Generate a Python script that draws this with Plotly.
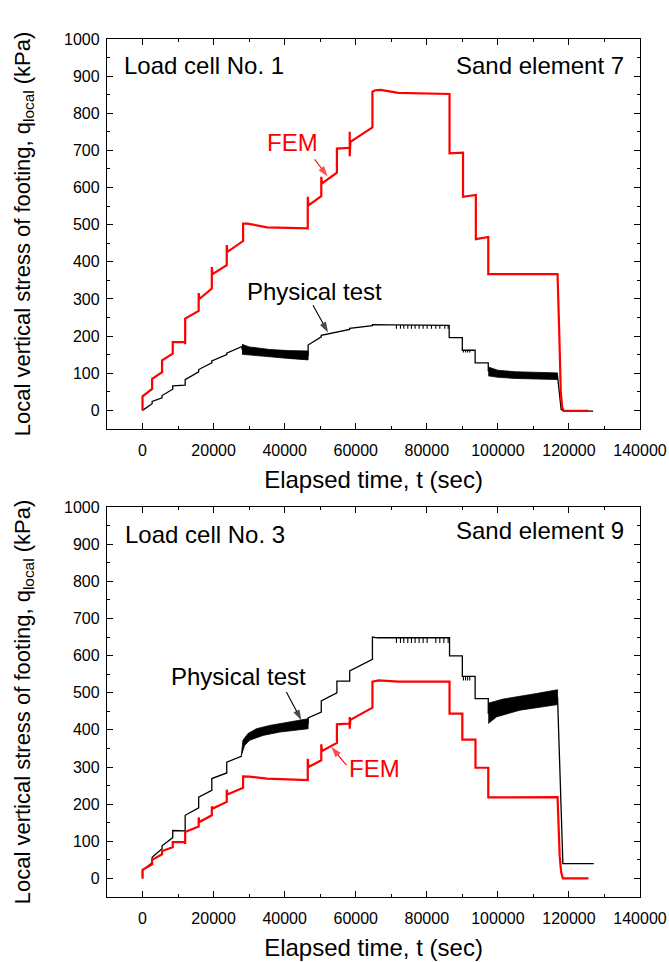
import plotly.graph_objects as go

# ---------------- Top panel: Load cell No. 1 / Sand element 7 ----------------
top_fem_t = [0, 0, 2700, 2700, 5500, 5500, 8500, 8500, 12000, 12000, 12000, 15800, 15800, 16000,
             19500, 19500, 19700, 23700, 23700, 23900, 28300, 28300, 29500, 35000, 46500, 46500,
             46700, 50300, 50300, 50500, 54700, 54700, 58300, 58300, 58300, 58500, 64700, 64700,
             65500, 67000, 72000, 86400, 86400, 90200, 90200, 93800, 93800, 97300, 97300, 116800,
             117300, 117700, 118100, 118600, 125500]
top_fem_q = [0, 38, 58, 85, 103, 135, 153, 184, 184, 178, 247, 268, 316, 300,
             328, 386, 367, 391, 445, 427, 456, 503, 503, 493, 490, 575,
             552, 577, 629, 611, 640, 705, 707, 750, 684, 723, 762, 858,
             862, 863, 855, 852, 692, 694, 575, 580, 461, 467, 367, 367,
             200, 50, 8, -1, -1]

top_test_t = [0, 2700, 2700, 5500, 5500, 8500, 8500, 12000, 12000, 15800, 15800, 19500, 19500,
              23700, 23700, 28000, 28000, 46600, 46600, 50300, 50300, 54700, 54700, 58300, 58300,
              64700, 64700, 70000, 86300, 86300, 90000, 90000, 93600, 93600, 97300, 97300,
              116800, 117300, 117800, 118500, 126800]
top_test_q = [0, 18, 24, 34, 40, 57, 66, 68, 83, 104, 110, 128, 133,
              150, 154, 172, 165, 148, 176, 198, 202, 210, 212, 218, 221,
              228, 231, 230, 229, 196, 196, 162, 162, 128, 128, 107,
              92, 40, 3, -2, -2]

top_band1_t = [28000, 30000, 35800, 41000, 46600]
top_band1_upper = [178, 171, 164, 161, 160]
top_band1_lower = [151, 148, 144, 140, 136]

top_band2_t = [97300, 100000, 105000, 110000, 116800]
top_band2_upper = [117, 108, 104, 102, 101]
top_band2_lower = [93, 89, 86, 84, 83]

top_spike_t = [71460, 72590, 73520, 74650, 75680, 76710, 77840, 78970, 80090, 81310,
               82540, 83660, 85070, 86010, 90300, 90900, 91500, 92100]
top_spike_top = [230] * 14 + [162] * 4
top_spike_bottom = [220] * 14 + [156] * 4

# ---------------- Bottom panel: Load cell No. 3 / Sand element 9 ----------------
bot_fem_t = [0, 0, 2700, 2700, 5500, 5500, 8500, 8500, 12000, 12000, 12000, 15800, 15800, 16000,
             19500, 19500, 19700, 23700, 23700, 23900, 28300, 28300, 30000, 35000, 46500, 46500,
             46700, 50300, 50300, 50500, 54700, 54700, 58300, 58300, 58300, 58500, 64700, 64700,
             66500, 72000, 86400, 86400, 90000, 90000, 93700, 93700, 97300, 97300, 116800,
             117400, 117800, 118300, 125500]
bot_fem_q = [0, 23, 38, 50, 65, 74, 84, 98, 98, 93, 125, 140, 164, 152,
             170, 194, 188, 206, 239, 226, 244, 275, 274, 269, 265, 322,
             300, 318, 361, 343, 365, 415, 417, 435, 403, 427, 460, 530,
             533, 530, 530, 444, 444, 374, 374, 298, 298, 218, 219,
             60, 17, 0, 0]

# None = gap where the oscillating band (drawn separately) replaces the line
bot_test_t = [0, 0, 2700, 2700, 5500, 5500, 8500, 8500, 12000, 12000, 15800, 15800, 19500, 19500,
              23700, 23700, 27800, 27800, None, 46600, 46600, 50300, 50300, 54700, 54700, 58300, 58300,
              64700, 64700, 66000, 86400, 86400, 90000, 90000, 93600, 93600, 97300, 97300,
              116800, 118300, 127000]
bot_test_q = [0, 22, 42, 57, 80, 88, 110, 129, 128, 170, 190, 219, 237, 269,
              284, 313, 329, 331, None, 416, 432, 448, 478, 500, 531, 531, 559,
              590, 650, 648, 648, 599, 599, 544, 544, 484, 484, 445,
              487, 40, 40]

bot_band1_upper_t = [27800, 28250, 29660, 32030, 35770, 41410, 46600]
bot_band1_upper = [331, 372, 390, 403, 412, 421, 430]
bot_band1_lower_t = [27800, 28730, 30140, 33890, 38590, 46600]
bot_band1_lower = [331, 358, 372, 385, 394, 403]

bot_band2_upper_t = [97300, 101500, 110900, 116800]
bot_band2_upper = [472, 483, 498, 508]
bot_band2_lower_t = [97300, 99600, 106200, 116800]
bot_band2_lower = [417, 435, 453, 468]

bot_spike_t = [71460, 72590, 73520, 74650, 75680, 76710, 77840, 78970, 80090,
               82540, 83660, 84800, 86010, 90300, 90900, 91500, 92100]
bot_spike_top = [648] * 13 + [544] * 4
bot_spike_bottom = [634] * 13 + [533] * 4

# label pointers (tail -> head) in data units
top_fem_ptr_t = [48440, 52100]
top_fem_ptr_q = [676, 630]
top_test_ptr_t = [47980, 52200]
top_test_ptr_q = [283, 210]
bot_test_ptr_t = [40480, 44700]
bot_test_ptr_q = [502, 426]
bot_fem_ptr_t = [57380, 53150]
bot_fem_ptr_q = [305, 354]

x_ticks = [0, 20000, 40000, 60000, 80000, 100000, 120000, 140000]
y_ticks = [0, 100, 200, 300, 400, 500, 600, 700, 800, 900, 1000]

RED = "#ff0000"
FONT = "Arial, Liberation Sans, sans-serif"

fig = go.Figure()


def band(t_up, q_up, t_lo, q_lo, xa, ya):
    return go.Scatter(x=list(t_up) + list(t_lo)[::-1], y=list(q_up) + list(q_lo)[::-1],
                      mode="lines", fill="toself", fillcolor="black",
                      line=dict(color="black", width=0.8), xaxis=xa, yaxis=ya,
                      showlegend=False, hoverinfo="skip")


def spikes(ts, tops, bots, xa, ya):
    xs, ys = [], []
    for t, a, b in zip(ts, tops, bots):
        xs += [t, t, None]
        ys += [a, b, None]
    return go.Scatter(x=xs, y=ys, mode="lines", line=dict(color="black", width=1.1),
                      xaxis=xa, yaxis=ya, showlegend=False, hoverinfo="skip")


def pointer(ts, qs, color, xa, ya):
    return go.Scatter(x=ts, y=qs, mode="lines+markers",
                      line=dict(color=color, width=1.1),
                      marker=dict(symbol=["circle", "arrow"], size=[0, 11], color=color,
                                  angleref="previous", line=dict(width=0)),
                      xaxis=xa, yaxis=ya, showlegend=False, hoverinfo="skip")


# top panel traces
fig.add_trace(go.Scatter(x=top_test_t, y=top_test_q, mode="lines",
                         line=dict(color="black", width=1.3), xaxis="x", yaxis="y", showlegend=False))
fig.add_trace(band(top_band1_t, top_band1_upper, top_band1_t, top_band1_lower, "x", "y"))
fig.add_trace(band(top_band2_t, top_band2_upper, top_band2_t, top_band2_lower, "x", "y"))
fig.add_trace(spikes(top_spike_t, top_spike_top, top_spike_bottom, "x", "y"))
fig.add_trace(go.Scatter(x=top_fem_t, y=top_fem_q, mode="lines",
                         line=dict(color=RED, width=2.2), xaxis="x", yaxis="y", showlegend=False))
fig.add_trace(pointer(top_fem_ptr_t, top_fem_ptr_q, RED, "x", "y"))
fig.add_trace(pointer(top_test_ptr_t, top_test_ptr_q, "black", "x", "y"))

# bottom panel traces
fig.add_trace(go.Scatter(x=bot_test_t, y=bot_test_q, mode="lines", connectgaps=False,
                         line=dict(color="black", width=1.3), xaxis="x2", yaxis="y2", showlegend=False))
fig.add_trace(band(bot_band1_upper_t, bot_band1_upper, bot_band1_lower_t, bot_band1_lower, "x2", "y2"))
fig.add_trace(band(bot_band2_upper_t, bot_band2_upper, bot_band2_lower_t, bot_band2_lower, "x2", "y2"))
fig.add_trace(spikes(bot_spike_t, bot_spike_top, bot_spike_bottom, "x2", "y2"))
fig.add_trace(go.Scatter(x=bot_fem_t, y=bot_fem_q, mode="lines",
                         line=dict(color=RED, width=2.2), xaxis="x2", yaxis="y2", showlegend=False))
fig.add_trace(pointer(bot_test_ptr_t, bot_test_ptr_q, "black", "x2", "y2"))
fig.add_trace(pointer(bot_fem_ptr_t, bot_fem_ptr_q, RED, "x2", "y2"))

minor_common = dict(ticks="inside", ticklen=3, tickwidth=1.2, tickcolor="black", showgrid=False)
axis_common = dict(showline=True, linecolor="black", linewidth=1.4, mirror="ticks",
                   ticks="inside", ticklen=6, tickwidth=1.2, tickcolor="black",
                   showgrid=False, zeroline=False, automargin=False,
                   tickfont=dict(family=FONT, size=16, color="black"))

xtitle = dict(text="Elapsed time, t (sec)", font=dict(family=FONT, size=24, color="black"), standoff=12)
ytitle = dict(text="Local vertical stress of footing, q<sub>local</sub> (kPa)",
              font=dict(family=FONT, size=22, color="black"), standoff=27)

xax = dict(axis_common, range=[-10000, 140000], tickmode="array", tickvals=x_ticks,
           ticktext=[str(v) for v in x_ticks], minor=dict(minor_common, dtick=10000, tick0=0),
           ticklabelstandoff=7, title=xtitle)
yax = dict(axis_common, range=[-50, 1000], tickmode="array", tickvals=y_ticks,
           ticktext=[str(v) for v in y_ticks], minor=dict(minor_common, dtick=50, tick0=0),
           ticklabelstandoff=3, title=ytitle)

top_dom = [0.5455, 1.0]
bot_dom = [0.0, 0.4545]

fig.update_layout(
    width=669, height=962,
    margin=dict(l=107, r=29, t=39, b=65, autoexpand=False),
    paper_bgcolor="white", plot_bgcolor="white",
    font=dict(family=FONT, color="black"),
    xaxis=dict(xax, anchor="y", domain=[0, 1]),
    yaxis=dict(yax, anchor="x", domain=top_dom),
    xaxis2=dict(xax, anchor="y2", domain=[0, 1]),
    yaxis2=dict(yax, anchor="x2", domain=bot_dom),
    showlegend=False,
)

ann = []


def text(x, y, s, xr, yr, color="black", xanchor="center"):
    ann.append(dict(x=x, y=y, xref=xr, yref=yr, text=s, showarrow=False, xanchor=xanchor,
                    yanchor="middle", font=dict(family=FONT, size=24, color=color)))


# top panel annotations
text(-5900, 928, "Load cell No. 1", "x", "y", xanchor="left")
text(136000, 930, "Sand element 7", "x", "y", xanchor="right")
text(42100, 722, "FEM", "x", "y", color=RED)
text(48450, 321, "Physical test", "x", "y")

# bottom panel annotations
text(-5550, 925, "Load cell No. 3", "x2", "y2", xanchor="left")
text(136000, 936, "Sand element 9", "x2", "y2", xanchor="right")
text(27000, 543, "Physical test", "x2", "y2")
text(65350, 296, "FEM", "x2", "y2", color=RED)

fig.update_layout(annotations=ann)

fig.write_html("out.html")
